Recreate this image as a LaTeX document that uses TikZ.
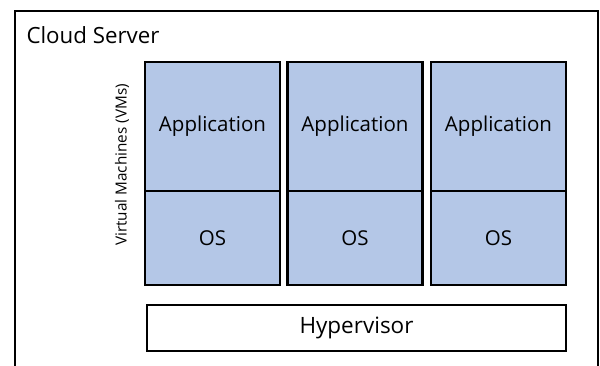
\documentclass[tikz,border=0pt]{standalone}
\usepackage{fontspec}
\setmainfont{Open Sans}
\begin{document}
\begin{tikzpicture}[x=1pt,y=-1pt,
  vmpart/.style={draw=black,line width=2.2pt,fill=vmblue,minimum width=135pt,inner sep=0pt,font=\fontsize{20.5}{22}\selectfont},
  hyperbox/.style={draw=black,line width=2.2pt,fill=white,minimum width=419pt,minimum height=46pt,inner sep=0pt,font=\fontsize{22.5}{24}\selectfont}]
\definecolor{vmblue}{HTML}{B4C7E7}
\useasboundingbox (0,0) rectangle (600,366);
\fill[white] (0,0) rectangle (600,366);
\coordinate (bl) at (15,368);
\coordinate (tl) at (15,11);
\coordinate (tr) at (598,11);
\coordinate (br) at (598,368);
\draw[line width=2.2pt] (bl) -- (tl) -- (tr) -- (br);
\node[anchor=west,font=\fontsize{22.3}{24}\selectfont] (title) at (23,35) {Cloud Server};
\node[rotate=90,font=\fontsize{15.3}{17}\selectfont] (vms) at (122,165) {Virtual Machines (VMs)};
\node[vmpart,minimum height=129pt] (app1) at (212.5,126.5) {Application};
\node[vmpart,minimum height=94pt] (os1) at (212.5,238) {OS};
\node[vmpart,minimum height=129pt] (app2) at (355,126.5) {Application};
\node[vmpart,minimum height=94pt] (os2) at (355,238) {OS};
\node[vmpart,minimum height=129pt] (app3) at (498.5,126.5) {Application};
\node[vmpart,minimum height=94pt] (os3) at (498.5,238) {OS};
\node[hyperbox] (hyp) at (356.5,328) {Hypervisor};
\end{tikzpicture}
\end{document}
